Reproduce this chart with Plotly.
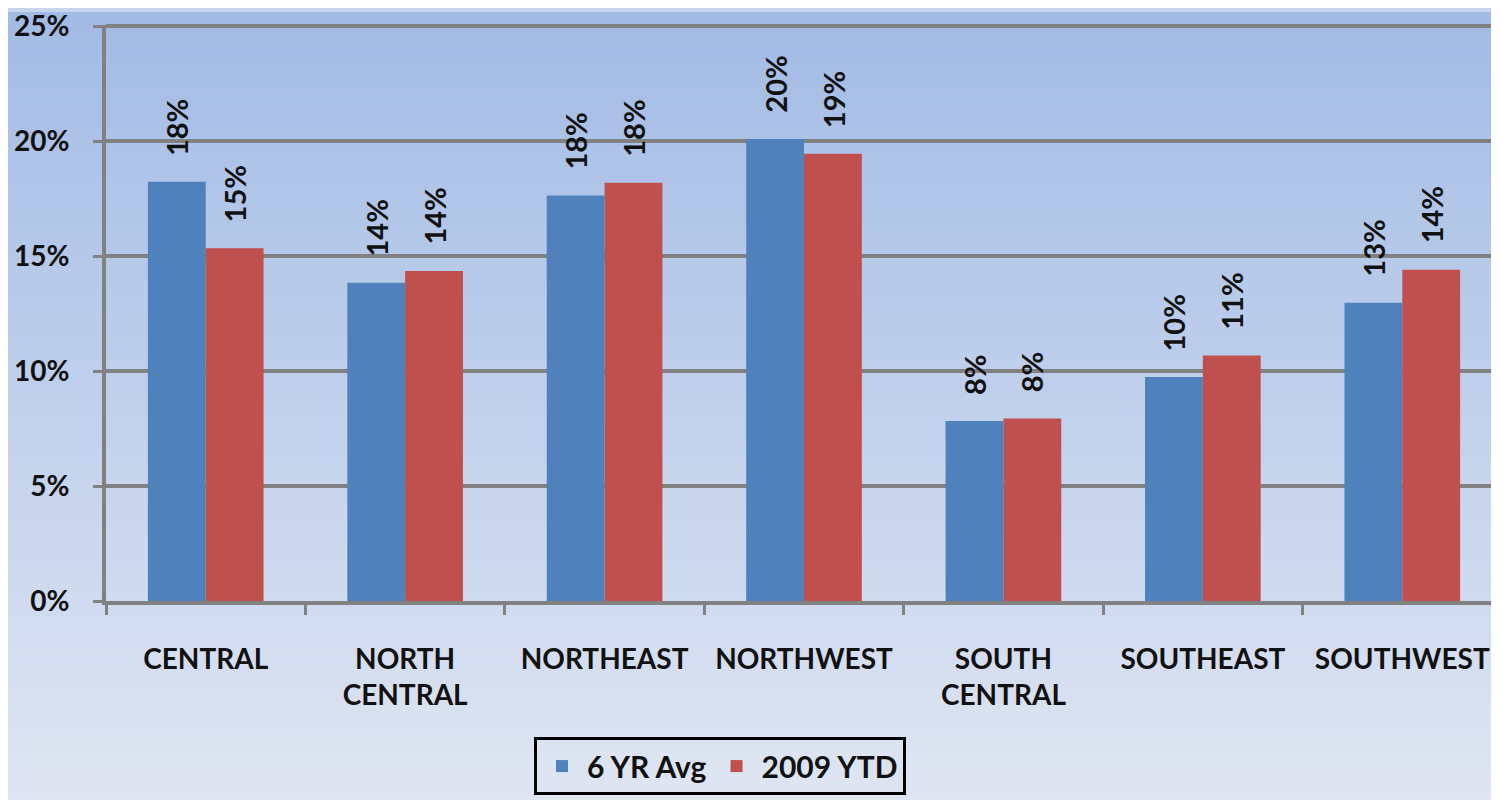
import plotly.graph_objects as go

categories = ["CENTRAL", "NORTH<br>CENTRAL", "NORTHEAST", "NORTHWEST",
              "SOUTH<br>CENTRAL", "SOUTHEAST", "SOUTHWEST"]
avg_6yr = [18.23, 13.84, 17.64, 20.09, 7.83, 9.74, 12.97]
ytd_2009 = [15.34, 14.35, 18.19, 19.45, 7.94, 10.68, 14.41]
series_names = ["6 YR Avg", "2009 YTD"]
y_ticks = [0, 5, 10, 15, 20, 25]
y_ticklabels = ["0%", "5%", "10%", "15%", "20%", "25%"]

# page body adds an 8px offset; margins are chosen to compensate
OFF = 8
W, H = 1494, 800
ML, MR, MT, MB = 98, 0, 13, 207
FONT = "Lato"
BLUE = "#4f81bd"
RED = "#c0504d"
GRID = "#818181"

fig = go.Figure()
fig.add_trace(go.Bar(x=categories, y=avg_6yr, name=series_names[0],
                     marker=dict(color=BLUE, line=dict(width=0))))
fig.add_trace(go.Bar(x=categories, y=ytd_2009, name=series_names[1],
                     marker=dict(color=RED, line=dict(width=0))))

# rotated value labels above each bar
plot_w = W - ML - MR
plot_h = H - MT - MB
cat_w = plot_w / len(categories)
bargap = 0.42
half_bar = cat_w * (1 - bargap) / 4
annotations = []
for vals, shift in ((avg_6yr, -half_bar), (ytd_2009, half_bar)):
    for c, v in zip(categories, vals):
        annotations.append(dict(
            x=c, y=v, xref="x", yref="y", text=f"{round(v):d}%",
            textangle=-90, showarrow=False, xanchor="center", yanchor="bottom",
            xshift=shift, yshift=24,
            font=dict(family=FONT, size=29, color="#111111", weight="bold")))

# gradient background bands
shapes = []
n = 100
top = (162, 187, 229)
bot = (224, 230, 242)
for i in range(n):
    t0 = i / n
    t1 = (i + 1) / n
    tm = (t0 + t1) / 2
    col = tuple(round(top[k] + (bot[k] - top[k]) * tm) for k in range(3))
    y_top_px = t0 * H
    y_bot_px = t1 * H + 1
    shapes.append(dict(
        type="rect", xref="paper", yref="paper", layer="below",
        x0=-ML / plot_w - 0.01, x1=1 + MR / plot_w + 0.01,
        y0=(H - MB - y_bot_px) / plot_h, y1=(H - MB - y_top_px) / plot_h,
        fillcolor=f"rgb{col}", line=dict(width=0)))

fig.update_layout(
    width=W, height=H,
    margin=dict(l=ML, r=MR, t=MT, b=MB, pad=0),
    paper_bgcolor="rgb(200,212,235)",
    plot_bgcolor="rgba(0,0,0,0)",
    barmode="group", bargap=bargap, bargroupgap=0,
    shapes=shapes,
    annotations=annotations,
    font=dict(family=FONT, size=28, color="#111111", weight="bold"),
    showlegend=True,
    legend=dict(
        orientation="h", x=(720 - OFF - ML) / plot_w, xanchor="center",
        y=(H - MB - (738 - OFF)) / plot_h, yanchor="top",
        bordercolor="black", borderwidth=3, bgcolor="rgba(0,0,0,0)",
        font=dict(family=FONT, size=30, color="#111111", weight="bold"),
        itemsizing="constant", itemwidth=40,
    ),
    xaxis=dict(
        type="category", showgrid=False, showline=True, linecolor=GRID,
        linewidth=4, ticks="outside", tickson="boundaries", ticklen=10,
        tickwidth=3, tickcolor=GRID, ticklabelstandoff=30,
        ticklabeloverflow="allow",
        tickfont=dict(family=FONT, size=28, color="#111111", weight="bold"),
        zeroline=False, fixedrange=True,
    ),
    yaxis=dict(
        range=[0, 25.05], tickvals=y_ticks, ticktext=y_ticklabels,
        showgrid=True, gridcolor=GRID, gridwidth=4,
        showline=True, linecolor=GRID, linewidth=4,
        ticks="outside", ticklen=9, tickwidth=3, tickcolor=GRID,
        ticklabelstandoff=18, zeroline=False, ticklabeloverflow="allow",
        tickfont=dict(family=FONT, size=28, color="#111111", weight="bold"),
    ),
)

fig.write_html("out.html")
